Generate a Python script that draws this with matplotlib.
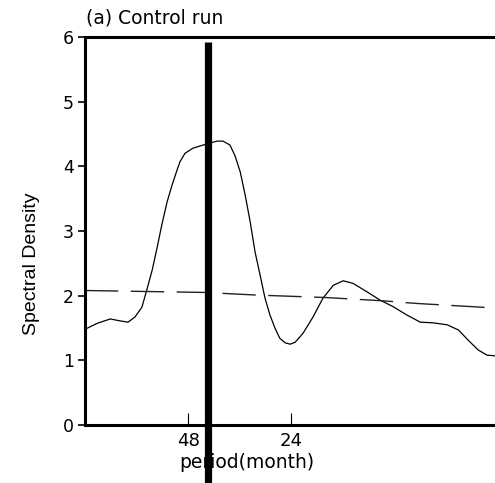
import numpy as np
import matplotlib
matplotlib.use("Agg")
import matplotlib.pyplot as plt

# spectrum of the control run (frequency in cycles/month)
freq = [0.0000, 0.0024, 0.0051, 0.0071, 0.0087, 0.0101, 0.0115, 0.0125, 0.0136,
        0.0146, 0.0156, 0.0166, 0.0176, 0.0186, 0.0192, 0.0202, 0.0218, 0.0239,
        0.0267, 0.0279, 0.0293, 0.0303, 0.0314, 0.0324, 0.0334, 0.0344, 0.0354,
        0.0364, 0.0374, 0.0384, 0.0394, 0.0405, 0.0415, 0.0425, 0.0441, 0.0461,
        0.0481, 0.0502, 0.0522, 0.0542, 0.0570, 0.0597, 0.0623, 0.0651, 0.0678,
        0.0704, 0.0732, 0.0755, 0.0775, 0.0795, 0.0813, 0.0829]
spec = [1.48, 1.57, 1.64, 1.61, 1.59, 1.67, 1.82, 2.09, 2.40,
        2.75, 3.12, 3.45, 3.71, 3.94, 4.07, 4.20, 4.28, 4.33,
        4.39, 4.39, 4.33, 4.17, 3.91, 3.55, 3.14, 2.67, 2.32,
        1.96, 1.70, 1.50, 1.34, 1.27, 1.25, 1.28, 1.42, 1.67,
        1.96, 2.16, 2.23, 2.19, 2.06, 1.93, 1.83, 1.70, 1.59,
        1.58, 1.55, 1.47, 1.31, 1.16, 1.08, 1.07]

# red-noise significance curve
sig_freq = [0.0, 0.0240, 0.0345, 0.0490, 0.0603, 0.0670, 0.0805, 0.0829]
sig_spec = [2.08, 2.05, 2.01, 1.97, 1.92, 1.88, 1.82, 1.81]

peak_freq = 0.0248
period_ticks = [48, 24]

fig = plt.figure(figsize=(4.95, 4.83), dpi=100)
ax = fig.add_axes([85/495, 58/483, 410/495, 388/483])

ax.plot(freq, spec, color='black', lw=0.9)
ax.plot(sig_freq, sig_spec, color='#222222', lw=1.0, dashes=(24, 9))
ax.plot([peak_freq, peak_freq], [-1.0, 5.92], color='black', lw=5.2,
        solid_capstyle='butt', clip_on=False, zorder=5)

ax.set_xlim(0, 0.0829)
ax.set_ylim(0, 6)
ax.set_yticks(range(7))
ax.set_xticks([1.0/p for p in period_ticks])
ax.set_xticklabels([str(p) for p in period_ticks], fontsize=13)

for s in ['left', 'top', 'bottom']:
    ax.spines[s].set_linewidth(2.2)
ax.spines['right'].set_visible(False)

ax.tick_params(axis='y', direction='out', length=5, width=1.2, pad=3, labelsize=12.5)
ax.tick_params(axis='x', direction='in', length=9, width=0.8, pad=5)

ax.set_ylabel('Spectral Density', fontsize=14, family='Liberation Sans')
ax.yaxis.set_label_coords(-0.11, 0.415)
fig.text(247/495, 1 - 463/483, 'period(month)', ha='center', va='center', fontsize=13.5)
fig.text(86/495, 1 - 18/483, '(a) Control run', ha='left', va='center', fontsize=13.5)

fig.savefig('out.png', dpi=100)
